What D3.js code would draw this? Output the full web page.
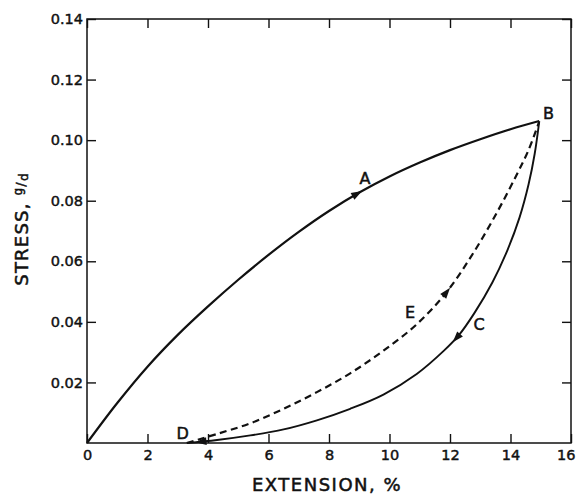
<!DOCTYPE html>
<html>
<head>
<meta charset="utf-8">
<script src="https://cdn.jsdelivr.net/npm/d3@7"></script>
<style>
  html, body { margin: 0; padding: 0; background: #fff; }
  svg { display: block; }
  text { font-family: "DejaVu Sans", sans-serif; fill: #111; }
</style>
</head>
<body>
<svg id="chart" width="576" height="494"></svg>
<script>
// ---- data (extension %, stress g/d) ----
const loadingA_x = [0, 1, 2, 3, 4, 5, 6, 7, 8, 9, 10, 11, 12, 13, 14, 14.95];
const loadingA_y = [0, 0.0132, 0.0252, 0.0357, 0.0451, 0.0539, 0.0621, 0.0697, 0.0766, 0.0827, 0.0880, 0.0926, 0.0967, 0.1003, 0.1036, 0.1063];

const unloadC_x = [3.3, 4.3, 5.4, 6.5, 7.6, 8.7, 9.8, 10.9, 11.8, 12.3, 12.8, 13.4, 13.9, 14.3, 14.6, 14.8, 14.95];
const unloadC_y = [0, 0.0010, 0.0025, 0.0045, 0.0075, 0.0113, 0.0160, 0.0228, 0.0305, 0.0357, 0.0428, 0.0530, 0.0637, 0.0745, 0.0855, 0.0955, 0.1062];

const reloadE_x = [3.3, 4.3, 5.4, 6.5, 7.6, 8.7, 9.8, 10.9, 11.9, 12.8, 13.6, 14.2, 14.6, 14.95];
const reloadE_y = [0, 0.0030, 0.0065, 0.0113, 0.0168, 0.0230, 0.0305, 0.0392, 0.0500, 0.0632, 0.0770, 0.0885, 0.0968, 0.1062];

const xTicks = [0, 2, 4, 6, 8, 10, 12, 14, 16];
const yTicks = [0.02, 0.04, 0.06, 0.08, 0.10, 0.12, 0.14];
const yTickLabels = ["0.02", "0.04", "0.06", "0.08", "0.10", "0.12", "0.14"];

const pointLabels = ["A", "B", "C", "D", "E"];
const pointLabel_x = [9.19, 15.26, 12.96, 3.16, 10.68];
const pointLabel_y = [0.0874, 0.1089, 0.0392, 0.0033, 0.0434];

// ---- layout ----
const svg = d3.select("#chart");
const L = 87, R = 571, T = 19, B = 443;
const x = d3.scaleLinear().domain([0, 16]).range([L, R]);
const y = d3.scaleLinear().domain([0, 0.14]).range([B, T]);

// frame
svg.append("rect").attr("x", L).attr("y", T).attr("width", R - L).attr("height", B - T)
  .attr("fill", "none").attr("stroke", "#111").attr("stroke-width", 1.5);

const tickLen = 9;
const gx = svg.append("g").attr("transform", `translate(0,${B})`)
  .call(d3.axisBottom(x).tickValues(xTicks).tickSize(-tickLen).tickPadding(7).tickFormat(d3.format("d")));
const gxt = svg.append("g").attr("transform", `translate(0,${T})`)
  .call(d3.axisTop(x).tickValues(xTicks).tickSize(-tickLen).tickFormat(""));
const gy = svg.append("g").attr("transform", `translate(${L},0)`)
  .call(d3.axisLeft(y).tickValues(yTicks).tickSize(-tickLen).tickPadding(4)
    .tickFormat((d, i) => yTickLabels[i]));
const gyr = svg.append("g").attr("transform", `translate(${R},0)`)
  .call(d3.axisRight(y).tickValues(yTicks).tickSize(-tickLen).tickFormat(""));

[gx, gxt, gy, gyr].forEach(g => {
  g.select(".domain").remove();
  g.selectAll(".tick line").attr("stroke", "#111").attr("stroke-width", 1.4);
  g.selectAll(".tick text").attr("font-size", 14.5).attr("font-family", "DejaVu Sans, sans-serif")
    .attr("fill", "#111").attr("stroke", "#111").attr("stroke-width", 0.45);
});
gx.selectAll(".tick text").filter(d => d === 16).attr("text-anchor", "end").attr("dx", 4);

// axis titles
svg.append("text").attr("x", 327).attr("y", 491).attr("text-anchor", "middle")
  .attr("font-size", 18).attr("letter-spacing", 1.5)
  .attr("stroke", "#111").attr("stroke-width", 0.5).text("EXTENSION, %");

const yt = svg.append("text").attr("transform", "translate(28,229) rotate(-90)")
  .attr("text-anchor", "middle").attr("font-size", 18).attr("letter-spacing", 1.2)
  .attr("stroke", "#111").attr("stroke-width", 0.5);
yt.append("tspan").text("STRESS, ");
yt.append("tspan").attr("font-size", 12).attr("dy", -6).text("g");
yt.append("tspan").attr("font-size", 13).attr("dy", 3).text("/");
yt.append("tspan").attr("font-size", 12).attr("dy", 3).text("d");

// curves
const line = d3.line().x(d => x(d[0])).y(d => y(d[1])).curve(d3.curveCatmullRom.alpha(0.5));
const zip = (xs, ys) => xs.map((v, i) => [v, ys[i]]);

const pathA = svg.append("path").datum(zip(loadingA_x, loadingA_y)).attr("d", line)
  .attr("fill", "none").attr("stroke", "#111").attr("stroke-width", 2.2);
const pathC = svg.append("path").datum(zip(unloadC_x, unloadC_y)).attr("d", line)
  .attr("fill", "none").attr("stroke", "#111").attr("stroke-width", 1.9);
const pathE = svg.append("path").datum(zip(reloadE_x, reloadE_y)).attr("d", line)
  .attr("fill", "none").attr("stroke", "#111").attr("stroke-width", 2.2).attr("stroke-dasharray", "7,4.5");

// arrowheads placed on the drawn paths
function arrowAt(pathSel, ext, forward) {
  const node = pathSel.node();
  const total = node.getTotalLength();
  const px = x(ext);
  let lo = 0, hi = total;
  for (let k = 0; k < 40; k++) {
    const mid = (lo + hi) / 2;
    if (node.getPointAtLength(mid).x < px) lo = mid; else hi = mid;
  }
  const p = node.getPointAtLength(lo);
  const q = node.getPointAtLength(Math.min(total, lo + 2));
  const p0 = node.getPointAtLength(Math.max(0, lo - 2));
  let ang = Math.atan2(q.y - p0.y, q.x - p0.x) * 180 / Math.PI;
  if (!forward) ang += 180;
  svg.append("path").attr("d", "M5,0 L-6,-3.8 L-6,3.8 Z")
    .attr("transform", `translate(${p.x},${p.y}) rotate(${ang})`)
    .attr("fill", "#111");
}
arrowAt(pathA, 8.95, true);
arrowAt(pathE, 11.9, true);
arrowAt(pathC, 12.2, false);
arrowAt(pathC, 3.75, false);

// point labels
svg.append("g").selectAll("text").data(pointLabels).join("text")
  .attr("x", (d, i) => x(pointLabel_x[i]))
  .attr("y", (d, i) => y(pointLabel_y[i]) + 6)
  .attr("text-anchor", "middle").attr("font-size", 16)
  .attr("stroke", "#111").attr("stroke-width", 0.5).text(d => d);
</script>
</body>
</html>
